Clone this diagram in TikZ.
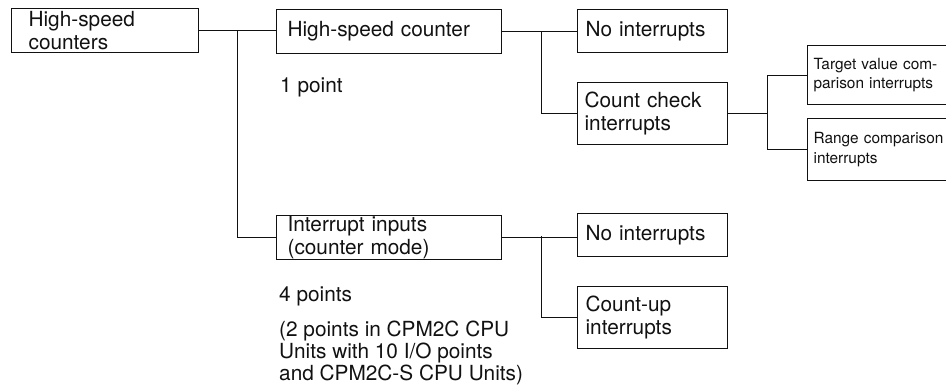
\documentclass[tikz,border=0pt]{standalone}
\usepackage{fontspec}
\setmainfont{TeX Gyre Heros}
\usetikzlibrary{calc}
\definecolor{ink}{HTML}{111111}
\tikzset{
  box/.style={draw=ink,line width=1.2pt,anchor=north west,align=left,inner ysep=0pt,
    text=ink,font=\fontsize{20.8}{23}\selectfont},
  smallbox/.style={box,font=\fontsize{15.4}{19.5}\selectfont},
  lbl/.style={anchor=base west,inner sep=0pt,align=left,text=ink,
    font=\fontsize{20.8}{22}\selectfont},
  link/.style={line width=1.2pt,draw=ink},
}

\begin{document}
\begin{tikzpicture}[x=1pt,y=-1pt]
    \useasboundingbox (0,0) rectangle (946,389);
    % boxes
    \node[box,inner xsep=17pt,text width=153pt,minimum height=44pt] (hsc) at (11,8) {High-speed\\counters};
    \node[box,inner xsep=11pt,text width=203pt,minimum height=44pt] (cnt) at (276,9) {High-speed counter};
    \node[box,inner xsep=11pt,text width=203pt,minimum height=44pt] (inp) at (276,215) {Interrupt inputs\\(counter mode)};
    \node[box,inner xsep=8pt,text width=134pt,minimum height=43pt] (noint) at (577,9) {No interrupts};
    \node[box,inner xsep=7pt,text width=136pt,minimum height=62pt] (check) at (577,82) {Count check\\interrupts};
    \node[box,inner xsep=8pt,text width=134pt,minimum height=43pt] (nointb) at (577,213) {No interrupts};
    \node[box,inner xsep=8pt,text width=134pt,minimum height=62pt] (cntup) at (577,286) {Count-up\\interrupts};
    \node[smallbox,inner xsep=6pt,text width=150pt,minimum height=59pt] (target) at (807,45) {Target value com-\\parison interrupts};
    \node[smallbox,inner xsep=6pt,text width=150pt,minimum height=62pt] (range) at (807,118) {Range comparison\\interrupts};
    % notes
    \node[lbl] (onept) at (280,92) {1 point};
    \node[lbl] (fourpt) at (279,301) {4 points};
    \node[lbl,anchor=north west] (cpunote) at (279,321) {(2 points in CPM2C CPU\\Units with 10 I/O points\\and CPM2C-S CPU Units)};
    % connectors
    \coordinate (ja) at ($(hsc.east)!0.5!(hsc.east -| cnt.west)$);
    \coordinate (jb) at ($(cnt.east)!0.52!(noint.west)$);
    \coordinate (jc) at ($(check.east)!0.5!(target.west)$);
    \coordinate (jd) at ($(inp.east)!0.52!(nointb.west)$);
    \draw[link] (hsc.east) -- (hsc.east -| cnt.west);
    \draw[link] (ja) |- (inp.west);
    \draw[link] (cnt.east) -- (noint.west |- cnt.east);
    \draw[link] (jb) |- (check.west);
    \draw[link] (check.east) -- (jc |- check.east);
    \draw[link] (jc |- target.west) -- (target.west);
    \draw[link] (jc |- target.west) |- (range.west);
    \draw[link] (inp.east) -- (nointb.west |- inp.east);
    \draw[link] (jd) |- (cntup.west);
\end{tikzpicture}
\end{document}
